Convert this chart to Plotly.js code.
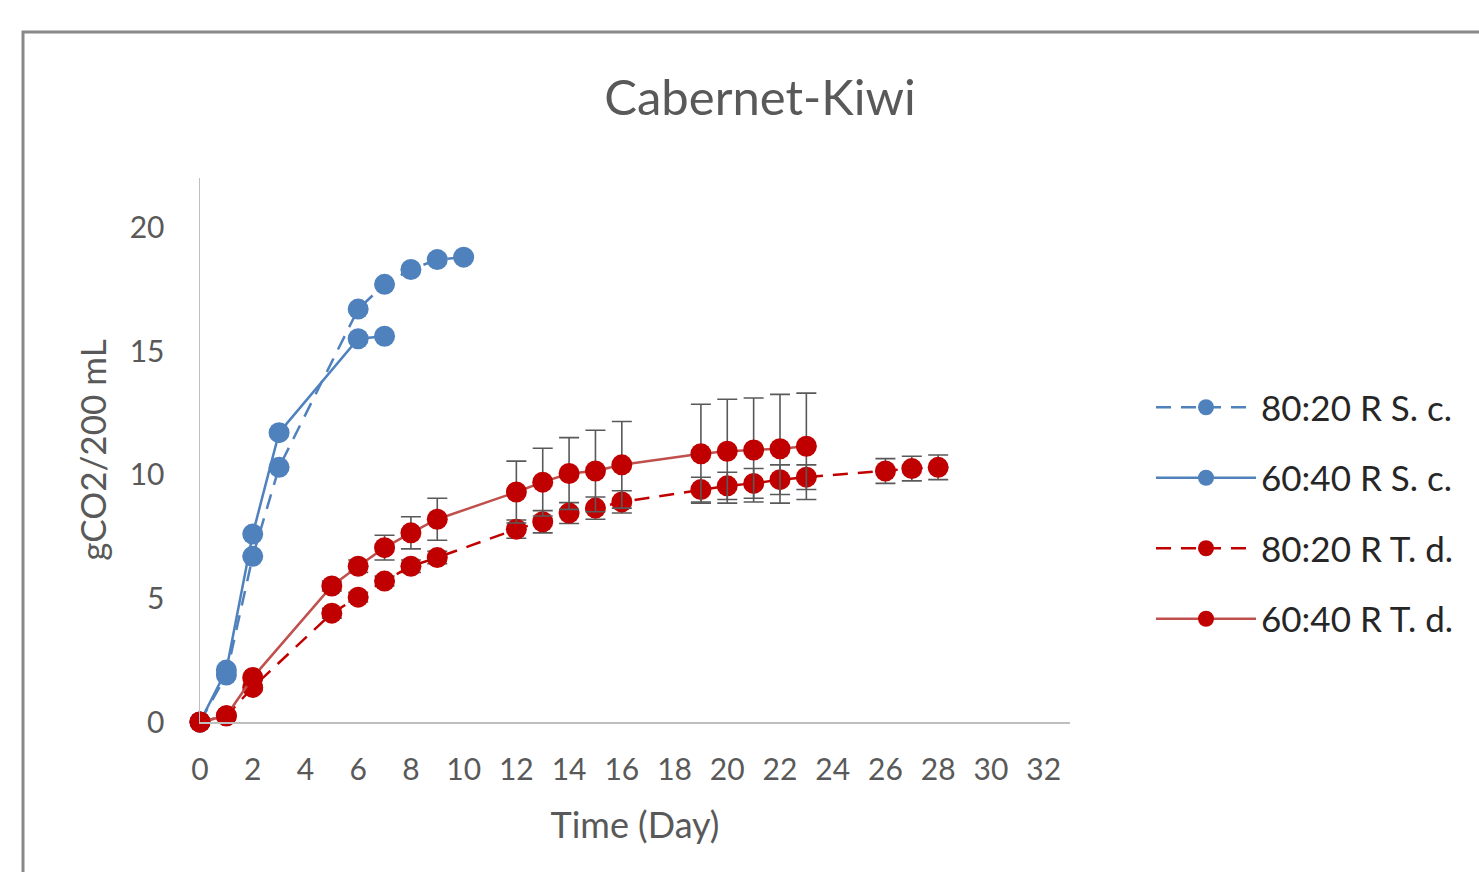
<!DOCTYPE html>
<html>
<head>
<meta charset="utf-8">
<script src="https://cdn.plot.ly/plotly-3.0.1.min.js"></script>
<style>
html,body{margin:0;padding:0;background:#fff;overflow:hidden;}
#chart{width:1479px;height:872px;}
</style>
</head>
<body>
<div id="chart"></div>
<script>
// ---- data ----
const seriesNames = ["80:20 R S. c.", "60:40 R S. c.", "80:20 R T. d.", "60:40 R T. d."];

const daysSc80 = [0, 1, 2, 3, 6, 7, 8, 9, 10];
const valsSc80 = [0, 1.9, 6.7, 10.3, 16.7, 17.7, 18.3, 18.7, 18.8];

const daysSc60 = [0, 1, 2, 3, 6, 7];
const valsSc60 = [0, 2.1, 7.6, 11.7, 15.5, 15.6];

const daysTd80 = [0, 1, 2, 5, 6, 7, 8, 9, 12, 13, 14, 15, 16, 19, 20, 21, 22, 23, 26, 27, 28];
const valsTd80 = [0, 0.25, 1.4, 4.4, 5.05, 5.7, 6.3, 6.65, 7.8, 8.1, 8.45, 8.65, 8.9, 9.4, 9.55, 9.65, 9.8, 9.9, 10.15, 10.25, 10.3];
const errTd80  = [0, 0, 0.1, 0.2, 0.2, 0.2, 0.25, 0.25, 0.37, 0.45, 0.42, 0.45, 0.45, 0.5, 0.55, 0.6, 0.6, 0.5, 0.5, 0.5, 0.5];

const daysTd60 = [0, 1, 2, 5, 6, 7, 8, 9, 12, 13, 14, 15, 16, 19, 20, 21, 22, 23];
const valsTd60 = [0, 0.25, 1.8, 5.5, 6.3, 7.05, 7.65, 8.2, 9.3, 9.7, 10.05, 10.15, 10.4, 10.85, 10.95, 11.0, 11.05, 11.15];
const errTd60  = [0, 0, 0.1, 0.2, 0.25, 0.5, 0.65, 0.85, 1.25, 1.37, 1.45, 1.65, 1.75, 2.0, 2.1, 2.1, 2.2, 2.15];

const xTickVals = [0, 2, 4, 6, 8, 10, 12, 14, 16, 18, 20, 22, 24, 26, 28, 30, 32];
const yTickVals = [0, 5, 10, 15, 20];

const chartTitle = "Cabernet-Kiwi";
const xTitle = "Time (Day)";
const yTitle = "gCO2/200 mL";

// ---- styles ----
const BLUE = "#4F81BD";
const RED = "#C00000";
const RED_LINE = "#C0504D";
const FONT = "Lato, 'Open Sans', sans-serif";
const TXT = "#595959";
const DASH = "15px,10px";
const MSIZE = 21;

function errBar(arr) {
  return {type: "data", array: arr, visible: true, color: "#595959", thickness: 1.6, width: 10};
}

const traces = [
  {x: daysSc80, y: valsSc80, name: seriesNames[0], mode: "lines+markers", legendgroup: "a", cliponaxis: false,
   line: {color: BLUE, width: 2.5, dash: DASH}, marker: {color: BLUE, size: MSIZE}},
  {x: daysSc60, y: valsSc60, name: seriesNames[1], mode: "lines+markers", legendgroup: "b", cliponaxis: false,
   line: {color: BLUE, width: 2.5}, marker: {color: BLUE, size: MSIZE}},
  {x: daysTd80, y: valsTd80, name: seriesNames[2], mode: "lines+markers", legendgroup: "c", cliponaxis: false,
   error_y: errBar(errTd80),
   line: {color: RED, width: 2.5, dash: DASH}, marker: {color: RED, size: MSIZE}},
  {x: daysTd60, y: valsTd60, name: seriesNames[3], mode: "lines+markers", legendgroup: "d", cliponaxis: false,
   error_y: errBar(errTd60),
   line: {color: RED_LINE, width: 2.5}, marker: {color: RED, size: MSIZE}}
];

const L = 200, R = 1070, T = 178, B = 722;
const layout = {
  width: 1479, height: 872,
  margin: {l: L, r: 1479 - R, t: T, b: 872 - B, pad: 0},
  paper_bgcolor: "#fff", plot_bgcolor: "#fff",
  font: {family: FONT, color: TXT, size: 30},
  showlegend: true,
  title: {text: chartTitle, font: {family: FONT, size: 49, color: TXT}, x: 760 / 1479, xanchor: "center", y: 1 - 98 / 872, yanchor: "middle"},
  xaxis: {
    range: [0, 33], tickvals: xTickVals, ticktext: xTickVals.map(String),
    showgrid: false, zeroline: false, showline: true, linecolor: "#BFBFBF", linewidth: 1.5,
    ticks: "", ticklabelstandoff: 20, tickfont: {family: FONT, size: 30, color: TXT},
    title: {text: xTitle, font: {family: FONT, size: 36, color: TXT}, standoff: 28},
    automargin: false, fixedrange: true
  },
  yaxis: {
    range: [0, 22], tickvals: yTickVals, ticktext: yTickVals.map(String),
    showgrid: false, zeroline: false, showline: true, linecolor: "#BFBFBF", linewidth: 1.5,
    ticks: "", ticklabelstandoff: 28, tickfont: {family: FONT, size: 30, color: TXT},
    title: {text: yTitle, font: {family: FONT, size: 35, color: TXT}, standoff: 12},
    automargin: false, fixedrange: true
  },
  legend: {
    x: (1151 - L) / (R - L), xanchor: "left", y: (B - 378) / (B - T), yanchor: "top",
    font: {family: FONT, size: 35, color: "#262626"},
    bgcolor: "rgba(0,0,0,0)", borderwidth: 0,
    itemwidth: 100, tracegroupgap: 22, traceorder: "grouped", itemsizing: "trace"
  },
  shapes: [{
    type: "rect", xref: "paper", yref: "paper", layer: "below",
    x0: (23 - L) / (R - L), x1: (1700 - L) / (R - L),
    y0: (B - 1000) / (B - T), y1: (B - 32) / (B - T),
    line: {color: "#898989", width: 3}, fillcolor: "rgba(0,0,0,0)"
  }]
};

Plotly.newPlot("chart", traces, layout, {displayModeBar: false, staticPlot: true});
</script>
</body>
</html>
